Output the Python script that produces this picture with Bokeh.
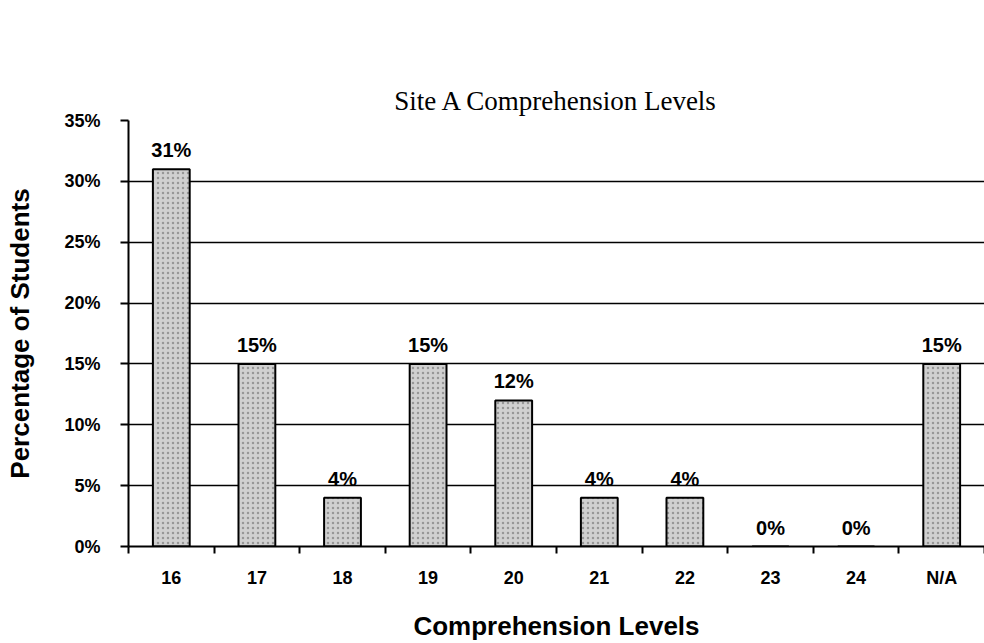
from bokeh.plotting import figure
from bokeh.models import ColumnDataSource, FixedTicker, Range1d, LabelSet, PrintfTickFormatter, Title
from bokeh.core.properties import value
from bokeh.embed import file_html
from bokeh.resources import INLINE

title_text = "Site A Comprehension Levels"
levels = ["16", "17", "18", "19", "20", "21", "22", "23", "24", "N/A"]
percentages = [31, 15, 4, 15, 12, 4, 4, 0, 0, 15]
y_ticks = [0, 5, 10, 15, 20, 25, 30, 35]

n = len(levels)
centers = [i + 0.5 for i in range(n)]
source = ColumnDataSource(dict(
    x=centers,
    top=percentages,
    label=[f"{v}%" for v in percentages],
))

p = figure(width=984, height=643, output_backend="svg", toolbar_location=None,
           x_range=Range1d(0, n), y_range=Range1d(0, 35),
           min_border_left=128, min_border_right=0, min_border_top=120, min_border_bottom=95)

# the built-in title slot sits next to the frame: use it as an invisible spacer
p.title.text = "."
p.title.text_font_size = "1px"
p.title.text_alpha = 0.0
p.title.standoff = 70

# real title, stacked further out above the spacer
main_title = Title(text=title_text, text_font="Liberation Serif", text_font_style="normal",
                   text_font_size="27px", align="center", text_color="black", standoff=10)
p.add_layout(main_title, "above")

p.outline_line_color = None

p.vbar(x="x", top="top", width=0.43, bottom=0, source=source,
       fill_color="#d0d0d0", line_color="black", line_width=2,
       hatch_pattern="dot", hatch_color="#666666", hatch_scale=5, hatch_alpha=0.55)

labels = LabelSet(x="x", y="top", text="label", source=source,
                  text_align="center", text_baseline="bottom", y_offset=8,
                  text_font=value("Liberation Sans"), text_font_style="bold",
                  text_font_size="20px", text_color="black")
p.add_layout(labels)

# x axis
p.xaxis.ticker = FixedTicker(ticks=centers, minor_ticks=list(range(n + 1)))
p.xaxis.major_label_overrides = {c: l for c, l in zip(centers, levels)}
p.xaxis.major_tick_line_color = None
p.xaxis.major_tick_out = 0
p.xaxis.major_tick_in = 0
p.xaxis.minor_tick_out = 7
p.xaxis.minor_tick_in = 0
p.xaxis.minor_tick_line_color = "black"
p.xaxis.minor_tick_line_width = 2
p.xaxis.axis_line_color = "black"
p.xaxis.axis_line_width = 2
p.xaxis.major_label_standoff = 14
p.xaxis.axis_label = "Comprehension Levels"
p.xaxis.axis_label_standoff = 20
p.xgrid.grid_line_color = None

# y axis
p.yaxis.ticker = FixedTicker(ticks=y_ticks, minor_ticks=[])
p.yaxis.formatter = PrintfTickFormatter(format="%d%%")
p.yaxis.major_tick_out = 8
p.yaxis.major_tick_in = 0
p.yaxis.major_tick_line_color = "black"
p.yaxis.major_tick_line_width = 2
p.yaxis.axis_line_color = "black"
p.yaxis.axis_line_width = 2
p.yaxis.major_label_standoff = 20
p.yaxis.axis_label = "Percentage of Students"
p.yaxis.axis_label_standoff = 26
p.ygrid.grid_line_color = "black"
p.ygrid.grid_line_width = 1.5

for ax in (p.xaxis, p.yaxis):
    ax.major_label_text_font = "Liberation Sans"
    ax.major_label_text_font_style = "bold"
    ax.major_label_text_font_size = "18px"
    ax.major_label_text_color = "black"
    ax.axis_label_text_font = "Liberation Sans"
    ax.axis_label_text_font_style = "bold"
    ax.axis_label_text_font_size = "26px"
    ax.axis_label_text_color = "black"

open("out.html", "w").write(file_html(p, INLINE))
